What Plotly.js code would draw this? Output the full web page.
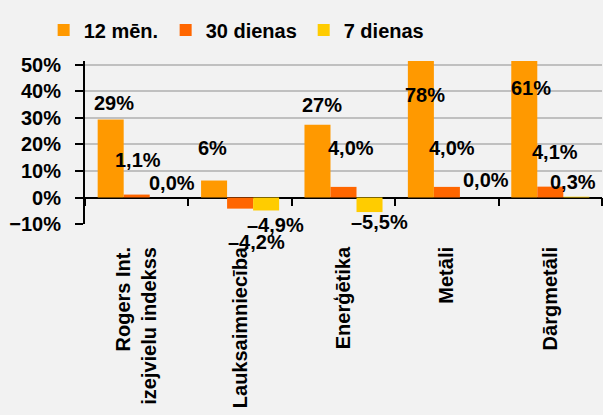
<!DOCTYPE html>
<html>
<head>
<meta charset="utf-8">
<script src="https://cdn.plot.ly/plotly-3.0.1.min.js"></script>
<style>html,body{margin:0;padding:0;background:#f2f2f2;}</style>
</head>
<body>
<div id="chart" style="width:603px;height:415px;"></div>
<script>
// ---- data ----
const categories = ['Rogers Int.<br>izejvielu indekss', 'Lauksaimniecība', 'Enerģētika', 'Metāli', 'Dārgmetāli'];
const seriesNames = ['12 mēn.', '30 dienas', '7 dienas'];
const m12 = [29.4, 6.4, 27.4, 78, 61];
const d30 = [1.1, -4.2, 4.0, 4.0, 4.1];
const d7 = [0.0, -4.9, -5.5, 0.0, 0.3];
const decimals = [0, 1, 1];

// ---- style ----
const colors = ['#ff9900', '#ff6600', '#ffcc00'];
const FONT = 'Liberation Sans, Arial, sans-serif';
const yMin = -10, yMax = 51.5;
const W = 603, H = 415, ML = 85, MR = 1, MT = 61, MB = 191;
const bargap = 0.245;
const legendX = [-0.08, 0.156, 0.423];
const legendIds = ['legend', 'legend2', 'legend3'];
// label placement offsets in pixels [dx, dy(down)] relative to bar end
const labelOffsets = [
  [[3,-17],[-2,-33],[4.5,-20],[4,34],[7,27]],
  [[1,-35],[16,33],[7.5,-39],[5,-39],[5,-35]],
  [[9,-15],[9,15],[9.5,10],[13.5,-17.5],[-3,-15]]
];

const series = [m12, d30, d7];
const traces = series.map((vals, i) => ({
  type: 'bar', name: seriesNames[i], x: categories, y: vals, legend: legendIds[i],
  marker: {color: colors[i], line: {width: 0}}, hoverinfo: 'skip'
}));
// helper trace so the zero-line tick axis exists
traces.push({type: 'scatter', mode: 'none', x: categories, y: d7, xaxis: 'x2', yaxis: 'y',
  showlegend: false, hoverinfo: 'skip'});

const plotW = W - ML - MR;
const catW = plotW / categories.length;
const barW = catW * (1 - bargap) / series.length;

function fmt(v, d) {
  let s = Math.abs(v).toFixed(d).replace('.', ',') + '%';
  return (v < 0 && Number(Math.abs(v).toFixed(d)) !== 0 ? '–' : '') + s;
}

const annotations = [];
series.forEach((vals, i) => {
  vals.forEach((v, j) => {
    const anchor = Math.max(yMin, Math.min(yMax, v));
    const off = labelOffsets[i][j];
    annotations.push({
      x: categories[j], y: anchor, xref: 'x', yref: 'y',
      text: fmt(v, decimals[i]), showarrow: false,
      xanchor: 'center', yanchor: 'middle',
      xshift: (i - 1) * barW + off[0], yshift: -off[1],
      font: {family: FONT, size: 20, color: '#000', weight: 'bold'}
    });
  });
});

const layout = {
  width: W, height: H,
  margin: {l: ML, r: MR, t: MT, b: MB, pad: 0},
  paper_bgcolor: '#f2f2f2', plot_bgcolor: '#f2f2f2',
  barmode: 'group', bargap: bargap, bargroupgap: 0,
  font: {family: FONT, size: 20, color: '#000', weight: 'bold'},
  showlegend: true,
  xaxis: {type: 'category', showgrid: false, zeroline: false, showline: false,
    ticks: '', tickangle: -90, ticklabelstandoff: 18,
    tickfont: {family: FONT, size: 20, weight: 'bold'}, fixedrange: true},
  xaxis2: {type: 'category', overlaying: 'x', matches: 'x', anchor: 'free',
    position: (0 - yMin) / (yMax - yMin), side: 'bottom',
    showgrid: false, zeroline: false, showline: false, showticklabels: false,
    ticks: 'outside', tickson: 'boundaries', ticklen: 8, tickwidth: 2, tickcolor: '#000'},
  yaxis: {range: [yMin, yMax], tickmode: 'linear', tick0: -10, dtick: 10,
    ticksuffix: '%', showgrid: true, gridcolor: '#c0c0c0', gridwidth: 2,
    zeroline: true, zerolinecolor: '#000', zerolinewidth: 2,
    showline: true, linecolor: '#000', linewidth: 2,
    ticks: 'outside', ticklen: 8, tickwidth: 2, tickcolor: '#000', ticklabelstandoff: 10,
    tickfont: {family: FONT, size: 20, weight: 'bold'}, fixedrange: true},
  annotations: annotations
};
legendIds.forEach((id, i) => {
  layout[id] = {orientation: 'h', x: legendX[i], xanchor: 'left', y: 1.19, yanchor: 'middle',
    bgcolor: 'rgba(0,0,0,0)', font: {family: FONT, size: 20, weight: 'bold'}, itemwidth: 30};
});

Plotly.newPlot('chart', traces, layout, {displayModeBar: false, staticPlot: true});
</script>
</body>
</html>
